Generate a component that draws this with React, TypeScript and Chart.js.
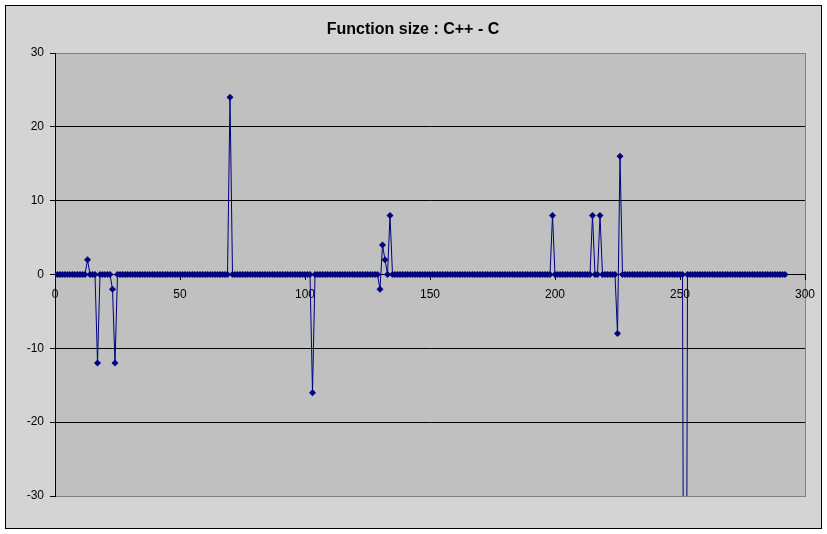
import React, { useEffect, useRef } from "react";
import { Chart, registerables } from "chart.js";

Chart.register(...registerables);

const chartTitle = "Function size : C++ - C";
const firstX = 1;
// Function size difference (C++ - C) for each function index 1..292
const sizeDiff = [
  // 1-20
  0, 0, 0, 0, 0, 0, 0, 0, 0, 0, 0, 0, 2, 0, 0, 0, -12, 0, 0, 0,
  // 21-40
  0, 0, -2, -12, 0, 0, 0, 0, 0, 0, 0, 0, 0, 0, 0, 0, 0, 0, 0, 0,
  // 41-60
  0, 0, 0, 0, 0, 0, 0, 0, 0, 0, 0, 0, 0, 0, 0, 0, 0, 0, 0, 0,
  // 61-80
  0, 0, 0, 0, 0, 0, 0, 0, 0, 24, 0, 0, 0, 0, 0, 0, 0, 0, 0, 0,
  // 81-100
  0, 0, 0, 0, 0, 0, 0, 0, 0, 0, 0, 0, 0, 0, 0, 0, 0, 0, 0, 0,
  // 101-120
  0, 0, -16, 0, 0, 0, 0, 0, 0, 0, 0, 0, 0, 0, 0, 0, 0, 0, 0, 0,
  // 121-140
  0, 0, 0, 0, 0, 0, 0, 0, 0, -2, 4, 2, 0, 8, 0, 0, 0, 0, 0, 0,
  // 141-160
  0, 0, 0, 0, 0, 0, 0, 0, 0, 0, 0, 0, 0, 0, 0, 0, 0, 0, 0, 0,
  // 161-180
  0, 0, 0, 0, 0, 0, 0, 0, 0, 0, 0, 0, 0, 0, 0, 0, 0, 0, 0, 0,
  // 181-200
  0, 0, 0, 0, 0, 0, 0, 0, 0, 0, 0, 0, 0, 0, 0, 0, 0, 0, 8, 0,
  // 201-220
  0, 0, 0, 0, 0, 0, 0, 0, 0, 0, 0, 0, 0, 0, 8, 0, 0, 8, 0, 0,
  // 221-240
  0, 0, 0, 0, -8, 16, 0, 0, 0, 0, 0, 0, 0, 0, 0, 0, 0, 0, 0, 0,
  // 241-260
  0, 0, 0, 0, 0, 0, 0, 0, 0, 0, 0, -120, 0, 0, 0, 0, 0, 0, 0, 0,
  // 261-280
  0, 0, 0, 0, 0, 0, 0, 0, 0, 0, 0, 0, 0, 0, 0, 0, 0, 0, 0, 0,
  // 281-292
  0, 0, 0, 0, 0, 0, 0, 0, 0, 0, 0, 0,
];
const xTicks = [0, 50, 100, 150, 200, 250, 300];
const yTicks = [-30, -20, -10, 0, 10, 20, 30];

const FONT = "'Liberation Sans', Arial, sans-serif";

const framePlugin = {
  id: "excelFrame",
  beforeDraw(chart: any) {
    const { ctx, width, height, chartArea } = chart;
    ctx.save();
    ctx.fillStyle = "#ffffff";
    ctx.fillRect(0, 0, width, height);
    ctx.fillStyle = "#d4d4d4";
    ctx.fillRect(5, 5, 816, 523);
    ctx.strokeStyle = "#000000";
    ctx.lineWidth = 1;
    ctx.strokeRect(5.5, 5.5, 816, 523);
    ctx.fillStyle = "#c0c0c0";
    ctx.fillRect(chartArea.left, chartArea.top, chartArea.right - chartArea.left, chartArea.bottom - chartArea.top);
    ctx.strokeStyle = "#808080";
    ctx.strokeRect(chartArea.left + 0.5, chartArea.top + 0.5, chartArea.right - chartArea.left, chartArea.bottom - chartArea.top);
    ctx.fillStyle = "#000000";
    ctx.font = `bold 16px ${FONT}`;
    ctx.textAlign = "center";
    ctx.textBaseline = "middle";
    ctx.fillText(chartTitle, 413, 30);
    ctx.restore();
  },
};

export default function App() {
  const ref = useRef<HTMLCanvasElement>(null);
  useEffect(() => {
    const points = sizeDiff.map((v, i) => ({ x: firstX + i, y: v }));
    const chart = new Chart(ref.current!, {
      type: "line",
      data: {
        datasets: [
          {
            data: points,
            borderColor: "#000080",
            backgroundColor: "#000080",
            borderWidth: 1,
            pointStyle: "rectRot",
            pointRadius: 3.5,
            pointBorderWidth: 0,
            tension: 0,
          },
        ],
      },
      options: {
        animation: false,
        responsive: false,
        devicePixelRatio: 1,
        layout: { padding: { top: 53, right: 22, bottom: 38, left: 0 } },
        plugins: { legend: { display: false }, title: { display: false }, tooltip: { enabled: false } },
        scales: {
          x: {
            type: "linear",
            min: 0,
            max: 300,
            position: { y: 0 } as any,
            afterFit: (s: any) => {
              s.height = 0;
            },
            afterBuildTicks: (s: any) => {
              s.ticks = xTicks.map((v) => ({ value: v }));
            },
            grid: { drawOnChartArea: false, drawTicks: true, tickLength: 5, color: "#000000", tickColor: "#000000" },
            border: { display: true, color: "#000000", width: 1 },
            ticks: { color: "#000000", padding: 8, maxRotation: 0, autoSkip: false, font: { family: FONT, size: 12 } },
          },
          y: {
            type: "linear",
            min: -30,
            max: 30,
            afterFit: (s: any) => {
              s.width = 55;
            },
            afterBuildTicks: (s: any) => {
              s.ticks = yTicks.map((v) => ({ value: v }));
            },
            grid: {
              drawTicks: true,
              tickLength: 5,
              color: (c: any) => (c.tick && Math.abs(c.tick.value) === 30 ? "#808080" : "#000000"),
              tickColor: "#000000",
            },
            border: { display: true, color: "#000000", width: 1 },
            ticks: { color: "#000000", padding: 6, font: { family: FONT, size: 12 } },
          },
        },
      },
      plugins: [framePlugin],
    });
    return () => chart.destroy();
  }, []);
  return (
    <div style={{ position: "fixed", left: 0, top: 0, width: 827, height: 534 }}>
      <canvas ref={ref} width={827} height={534} style={{ display: "block" }} />
    </div>
  );
}
